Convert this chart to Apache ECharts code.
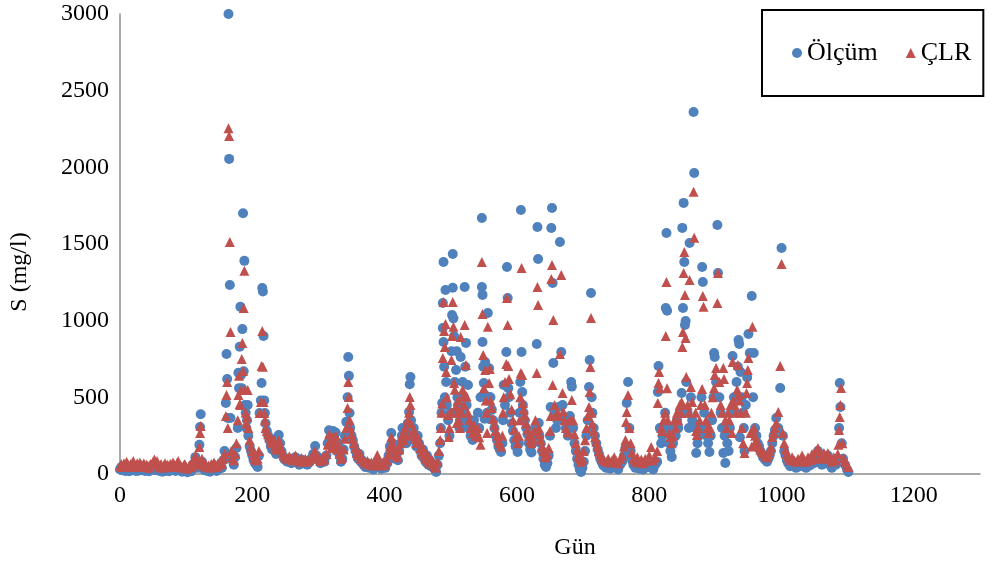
<!DOCTYPE html>
<html>
<head>
<meta charset="utf-8">
<script src="https://cdn.jsdelivr.net/npm/echarts@6/dist/echarts.min.js"></script>
<style>
html,body{margin:0;padding:0;background:#fff;}
#chart{width:993px;height:570px;}
</style>
</head>
<body>
<div id="chart"></div>
<script>
// ---- Data (day, value) ----
const seriesNames = ["Ölçüm", "ÇLR"];
const xTicks = [0, 200, 400, 600, 800, 1000, 1200];
const yTicks = [0, 500, 1000, 1500, 2000, 2500, 3000];

const olcumA = [[0,30],[2,45],[4,25],[6,35],[8,20],[10,40],[12,28],[14,18],[16,35],[18,25],[20,45],[22,30],[24,20],[26,38],[28,22],[30,50],[32,30],[34,25],[36,40],[38,20],[40,32],[42,26],[44,18],[46,40],[48,30],[50,55],[52,35],[54,25],[56,45],[58,30],[60,20],[62,35],[64,15],[66,28],[68,40],[70,22],[72,30],[74,18],[76,35],[78,25],[80,45],[82,30],[84,20],[86,38],[88,50],[90,30],[92,22],[94,15],[96,28],[98,35],[100,20],[102,12],[104,25],[106,30],[108,18],[110,40],[112,70],[114,110],[116,60],[118,40],[120,190],[121,307],[122,390],[124,80],[126,45],[128,25],[130,35],[132,20],[134,30],[136,15],[138,40],[140,25],[142,50],[144,30],[146,20],[148,45],[150,35],[152,60],[154,40],[156,90],[158,150],[160,463],[161,783],[162,620],[163,365],[164,3000],[165,2055],[166,1233],[167,365],[168,120],[170,90],[172,60],[174,110],[176,170],[178,300],[179,660],[180,560],[181,830],[182,1090],[183,646],[184,560],[185,945],[186,1700],[187,670],[188,1390],[189,450],[190,400],[191,300],[192,350],[193,450],[194,250],[196,180],[198,150],[200,120],[202,90],[204,70],[206,60],[208,46],[210,120],[211,398],[213,480],[214,593],[215,1213],[216,1190],[217,900],[218,480],[219,398],[220,330],[222,280],[224,250],[226,220],[228,180],[230,160],[232,200],[234,150],[236,130],[238,170],[240,254],[242,200],[244,150],[246,120],[248,100],[250,90],[253,80],[256,100],[259,70],[262,90],[265,110],[268,80],[271,60],[274,95],[277,70],[280,85],[283,60],[286,75],[289,100],[292,130],[295,183],[297,120],[300,90]];
const olcumB = [[303,70],[306,100],[309,80],[312,120],[314,200],[316,285],[318,240],[320,180],[322,280],[324,220],[326,270],[328,150],[330,200],[332,120],[334,80],[336,100],[338,160],[340,250],[342,340],[344,500],[345,763],[346,640],[347,398],[348,300],[350,250],[352,220],[354,180],[356,150],[358,120],[360,100],[362,130],[364,80],[366,90],[368,60],[371,45],[374,70],[377,40],[380,55],[383,30],[386,60],[389,80],[392,50],[395,35],[398,60],[401,40],[404,70],[406,120],[408,180],[410,267],[412,200],[414,150],[416,100],[418,130],[420,90],[422,150],[424,200],[426,250],[427,300],[429,220],[431,280],[433,200],[435,330],[437,404],[438,585],[439,633],[440,350],[442,250],[444,300],[446,220],[448,180],[450,250],[452,200],[454,150],[456,120],[458,160],[460,100],[462,80],[464,120],[466,60],[468,90],[470,50],[472,70],[474,40],[476,30],[478,13],[480,60],[482,120],[484,200],[485,300],[486,400],[487,463],[488,952],[488,1115],[489,1383],[489,861],[490,700],[491,500],[492,1200],[493,600],[494,450],[496,350],[498,250],[500,400],[501,800],[502,1037],[503,1435],[503,1215],[504,1015],[505,900],[506,600],[507,400],[508,678],[509,800],[510,500],[511,450],[512,400],[513,300],[514,350],[515,763],[516,300],[518,600],[519,400],[520,500],[521,1220],[522,700],[523,855],[524,450],[525,350],[526,580],[527,300],[528,350],[530,250],[532,300],[533,222],[535,350],[537,250],[539,300],[541,400],[543,300],[545,500],[547,1670],[547,1220],[548,1168],[548,861],[549,700],[550,593],[551,360],[552,730],[553,510],[555,400],[556,1050],[557,360],[558,690],[559,500]];
const olcumC = [[560,500],[562,420],[564,350],[566,300],[568,250],[570,220],[572,180],[574,160],[576,143],[578,200],[579,350],[580,580],[582,450],[584,796],[585,1350],[586,1148],[587,560],[588,500],[590,400],[592,330],[594,280],[596,220],[598,180],[601,143],[603,200],[604,400],[605,600],[606,1722],[607,796],[608,535],[609,450],[610,400],[612,350],[614,300],[616,260],[618,200],[620,160],[622,140],[624,200],[626,250],[628,300],[630,848],[631,1611],[632,1402],[633,333],[634,250],[636,200],[638,150],[640,100],[642,60],[644,46],[646,70],[648,120],[650,250],[651,437],[652,1604],[653,1735],[654,1246],[655,724],[657,400],[659,300],[661,350],[663,437],[665,1513],[667,796],[669,450],[671,350],[674,300],[677,250],[680,378],[682,600],[683,570],[685,300],[687,200],[689,150],[691,100],[693,60],[695,30],[697,13],[699,40],[701,80],[703,150],[705,250],[707,350],[709,567],[710,744],[712,1180],[713,500],[714,400],[716,300],[718,250],[720,200],[722,160],[724,130],[726,100],[728,80],[730,60],[732,50],[735,40],[738,60],[741,35],[744,50],[747,70],[750,45],[753,30],[756,60],[759,80],[762,120],[764,170],[766,463],[768,600],[770,300],[772,150],[774,90],[776,60],[779,40],[782,70],[785,35],[788,55],[791,30],[794,60],[797,45],[800,80]];
const olcumD = [[803,50],[806,30],[809,60],[812,80],[813,535],[814,704],[816,300],[818,200],[820,250],[822,300],[824,400],[825,1083],[826,1572],[827,1065],[828,300],[830,200],[832,150],[834,111],[836,200],[838,300],[840,250],[842,350],[844,300],[846,400],[848,417],[849,528],[850,1605],[851,1083],[852,1768],[853,1383],[854,972],[855,998],[856,600],[858,400],[860,300],[861,1507],[863,500],[865,350],[867,2361],[868,1963],[870,300],[871,137],[873,200],[875,250],[877,300],[879,500],[880,1350],[881,1252],[883,400],[885,300],[887,250],[889,200],[891,143],[893,250],[895,350],[897,500],[898,789],[899,763],[901,600],[903,1624],[904,1311],[906,500],[908,400],[910,300],[912,137],[914,250],[915,72],[918,200],[920,150],[922,300],[924,400],[926,770],[928,500],[930,400],[932,600],[934,700],[935,874],[936,848],[937,240],[938,665],[940,500],[942,400],[943,300],[944,150],[946,450],[948,630],[950,913],[952,789],[955,1161],[957,500],[958,789],[960,300],[962,250],[964,200],[966,180],[968,150],[970,130],[972,110],[974,100],[976,90],[978,80],[980,100],[982,120],[984,150],[986,200],[988,250],[990,287],[992,365],[995,300],[998,561],[1000,1474],[1002,250],[1004,150],[1006,120],[1008,90],[1010,70],[1013,50],[1016,80],[1019,60],[1022,40],[1025,70],[1028,50],[1031,90],[1034,60],[1037,40],[1040,80],[1043,55],[1046,100],[1049,70],[1052,120],[1055,150],[1058,90],[1061,60],[1064,100],[1067,80],[1070,120],[1073,60],[1076,40],[1079,80],[1082,60],[1085,100],[1087,300],[1088,593],[1089,437],[1091,200],[1093,100],[1096,60],[1099,30],[1101,13]];

const clrA = [[0,50],[2,65],[4,45],[6,70],[8,55],[10,80],[12,60],[14,45],[16,65],[18,50],[20,85],[22,60],[24,45],[26,70],[28,55],[30,75],[32,60],[34,50],[36,70],[38,45],[40,60],[42,55],[44,40],[46,65],[48,60],[50,80],[52,95],[54,70],[56,85],[58,60],[60,45],[62,65],[64,40],[66,55],[68,70],[70,50],[72,60],[74,45],[76,65],[78,55],[80,75],[82,60],[84,45],[86,70],[88,85],[90,65],[92,50],[94,40],[96,55],[98,65],[100,45],[102,35],[104,50],[106,60],[108,45],[110,70],[112,90],[114,120],[116,80],[118,60],[120,176],[121,267],[122,313],[124,100],[126,70],[128,50],[130,60],[132,45],[134,55],[136,40],[138,65],[140,50],[142,75],[144,60],[146,45],[148,70],[150,60],[152,80],[154,65],[156,100],[158,130],[160,378],[161,516],[162,600],[163,300],[164,2255],[165,2205],[166,1513],[167,926],[168,150],[170,110],[172,90],[174,130],[176,200],[178,350],[179,516],[180,640],[181,456],[182,450],[183,548],[184,750],[185,855],[186,672],[187,1083],[188,1325],[189,548],[190,400],[191,330],[192,372],[193,548],[194,300],[196,220],[198,180],[200,150],[202,120],[204,100],[206,90],[208,100],[210,150],[211,398],[213,470],[214,704],[215,933],[216,700],[217,470],[218,398],[219,350],[220,300],[222,280],[224,260],[226,240],[228,220],[230,200],[232,230],[234,180],[236,160],[238,190],[240,220],[242,180],[244,160],[246,140],[248,120],[250,110],[253,100],[256,115],[259,90],[262,105],[265,120],[268,95],[271,80],[274,105],[277,85],[280,100],[283,80],[286,90],[289,110],[292,130],[295,150],[297,120],[300,100]];
const clrB = [[303,85],[306,110],[309,95],[312,130],[314,190],[316,260],[318,220],[320,170],[322,240],[324,200],[326,250],[328,160],[330,190],[332,130],[334,100],[336,110],[338,160],[340,230],[342,300],[344,430],[345,600],[346,502],[347,352],[348,300],[350,260],[352,230],[354,200],[356,170],[358,140],[360,120],[362,140],[364,100],[366,105],[368,80],[371,70],[374,85],[377,60],[380,75],[383,55],[386,80],[389,124],[392,70],[395,55],[398,80],[401,60],[404,90],[406,130],[408,180],[410,240],[412,200],[414,160],[416,120],[418,140],[420,110],[422,160],[424,200],[426,240],[427,260],[429,220],[431,300],[433,250],[435,352],[437,400],[438,502],[439,450],[440,330],[442,260],[444,290],[446,230],[448,200],[450,240],[452,210],[454,170],[456,140],[458,170],[460,120],[462,100],[464,130],[466,80],[468,100],[470,70],[472,90],[474,60],[476,50],[478,40],[480,80],[482,150],[484,222],[485,300],[486,400],[487,460],[488,757],[489,1122],[490,933],[491,829],[492,978],[493,665],[494,500],[496,385],[497,241],[498,300],[500,400],[501,744],[502,900],[503,1122],[504,960],[505,593],[506,550],[508,440],[509,333],[510,400],[511,480],[512,352],[514,300],[515,893],[516,400],[518,550],[519,505],[520,450],[521,972],[523,711],[524,505],[526,400],[528,352],[530,300],[533,267],[535,320],[537,250],[539,280],[541,300],[543,240],[545,190],[547,1383],[548,1044],[549,776],[550,560],[552,678],[553,480],[554,400],[555,267],[556,960],[558,593],[559,685]];
const clrC = [[560,480],[562,430],[564,360],[566,320],[568,280],[570,250],[572,220],[574,200],[576,180],[578,250],[579,400],[580,500],[582,600],[584,717],[585,1148],[586,972],[587,704],[588,620],[590,520],[592,420],[594,350],[596,290],[598,240],[601,200],[603,250],[604,350],[605,500],[606,659],[607,1344],[608,646],[609,463],[610,420],[612,380],[614,330],[616,290],[618,250],[620,220],[622,200],[624,230],[626,280],[628,350],[630,659],[631,1220],[632,1102],[633,300],[634,260],[636,220],[638,180],[640,150],[642,120],[644,110],[646,130],[648,170],[650,280],[651,378],[652,1272],[653,1363],[654,580],[655,1004],[657,450],[659,380],[661,400],[663,378],[665,783],[667,1298],[669,528],[670,408],[672,350],[674,300],[677,270],[680,350],[683,483],[685,350],[687,260],[689,200],[691,160],[693,120],[695,100],[697,80],[699,100],[701,150],[703,220],[705,300],[707,378],[709,437],[710,535],[711,698],[712,1018],[713,400],[714,330],[716,280],[718,240],[720,210],[722,180],[724,150],[726,130],[728,110],[730,100],[732,90],[735,80],[738,100],[741,75],[744,90],[747,110],[750,85],[753,70],[756,100],[759,120],[762,180],[764,222],[765,339],[766,404],[768,516],[770,300],[772,200],[774,140],[776,100],[779,80],[782,110],[785,75],[788,95],[791,70],[794,100],[797,85],[800,120]];
const clrD = [[803,176],[806,90],[809,110],[812,150],[813,463],[814,593],[815,665],[816,560],[818,300],[820,280],[822,352],[824,400],[825,900],[826,1252],[827,560],[828,350],[830,267],[832,241],[834,200],[836,250],[838,350],[840,300],[842,400],[844,350],[846,450],[848,398],[849,470],[850,829],[851,926],[852,1311],[853,1448],[854,1168],[855,887],[856,633],[858,450],[860,400],[861,1265],[863,567],[865,470],[867,1840],[868,1540],[870,400],[871,280],[872,254],[874,300],[876,350],[878,450],[880,554],[881,1161],[882,1090],[884,450],[886,350],[888,300],[890,267],[892,300],[894,400],[896,500],[898,560],[899,646],[901,691],[903,1115],[904,1311],[906,600],[908,450],[910,400],[912,691],[913,620],[915,350],[917,300],[919,400],[921,350],[923,450],[925,267],[926,730],[927,480],[929,450],[931,400],[933,550],[934,711],[935,515],[936,480],[938,400],[940,300],[942,200],[944,137],[946,400],[947,528],[948,593],[949,678],[950,757],[953,267],[955,180],[956,960],[958,300],[960,250],[962,220],[964,200],[966,180],[968,160],[970,150],[972,140],[974,130],[976,120],[978,110],[980,130],[982,150],[984,176],[986,241],[988,267],[990,300],[992,333],[995,404],[998,704],[1000,1370],[1002,267],[1004,200],[1006,160],[1008,130],[1010,110],[1013,90],[1016,110],[1019,90],[1022,80],[1025,100],[1028,85],[1031,120],[1034,95],[1037,80],[1040,110],[1043,90],[1046,130],[1049,100],[1052,150],[1055,170],[1058,120],[1061,100],[1064,137],[1067,110],[1070,137],[1073,100],[1076,80],[1079,110],[1082,90],[1085,130],[1086,190],[1087,287],[1088,372],[1089,450],[1090,561],[1092,200],[1094,104],[1096,80],[1099,60],[1101,45]];

const olcumData = olcumA.concat(olcumB, olcumC, olcumD);
const clrData = clrA.concat(clrB, clrC, clrD);

const FONT = "'Liberation Serif', 'Times New Roman', serif";
const chart = echarts.init(document.getElementById('chart'), null, {renderer: 'canvas'});
chart.setOption({
  animation: false,
  backgroundColor: '#ffffff',
  grid: {left: 120, right: 13, top: 14, bottom: 96, containLabel: false},
  xAxis: {
    type: 'value', min: xTicks[0], max: 1300, interval: 200,
    axisLine: {show: true, lineStyle: {color: '#8c8c8c', width: 1.5}},
    axisTick: {show: false},
    splitLine: {show: false},
    axisLabel: {color: '#000', fontFamily: FONT, fontSize: 24, margin: 10,
      formatter: v => xTicks.indexOf(v) >= 0 ? String(v) : ''}
  },
  yAxis: {
    type: 'value', min: yTicks[0], max: yTicks[yTicks.length-1], interval: 500,
    axisLine: {show: true, lineStyle: {color: '#8c8c8c', width: 1.5}},
    axisTick: {show: false},
    splitLine: {show: false},
    axisLabel: {color: '#000', fontFamily: FONT, fontSize: 24, margin: 11,
      formatter: v => String(v)}
  },
  legend: {
    left: 762, top: 10,
    padding: [30, 12, 30, 30],
    borderColor: '#000', borderWidth: 2,
    itemWidth: 10, itemHeight: 10, itemGap: 28,
    textStyle: {color: '#000', fontFamily: FONT, fontSize: 26},
    data: [{name: seriesNames[0], icon: 'circle'}, {name: seriesNames[1], icon: 'triangle'}]
  },
  graphic: [
    {type: 'text', x: 575, y: 548, style: {text: 'Gün', fill: '#000', font: "24px 'Liberation Serif'", textAlign: 'center', textVerticalAlign: 'middle'}},
    {type: 'text', x: 20, y: 272, rotation: Math.PI/2, style: {text: 'S (mg/l)', fill: '#000', font: "24px 'Liberation Serif'", textAlign: 'center', textVerticalAlign: 'middle'}}
  ],
  series: [
    {name: seriesNames[0], type: 'scatter', symbol: 'circle', symbolSize: 10,
     itemStyle: {color: '#4F81BD', opacity: 1}, data: olcumData},
    {name: seriesNames[1], type: 'scatter', symbol: 'triangle', symbolSize: 10,
     itemStyle: {color: '#C0504D', opacity: 1}, data: clrData}
  ]
});
</script>
</body>
</html>
